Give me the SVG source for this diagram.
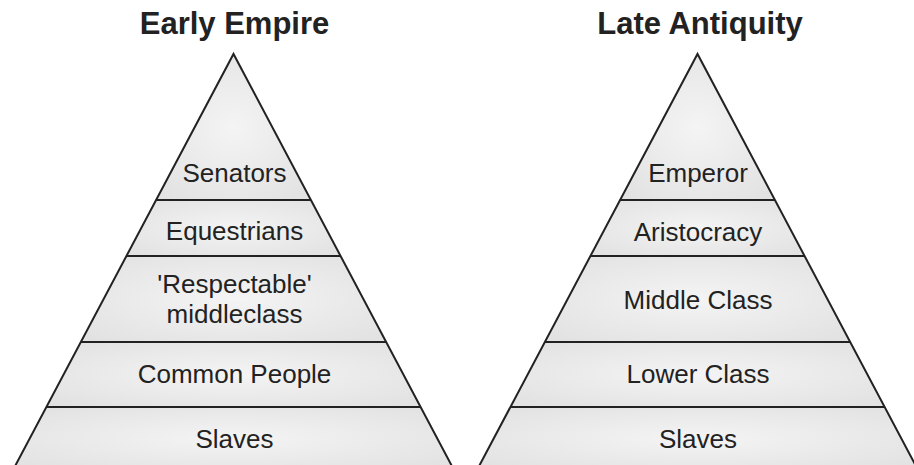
<svg xmlns="http://www.w3.org/2000/svg" width="914" height="465" viewBox="0 0 914 465">
<defs>
<radialGradient id="g" cx="0.5" cy="0.5" r="0.65">
<stop offset="0" stop-color="#f4f4f4"/>
<stop offset="1" stop-color="#e2e2e2"/>
</radialGradient>
<style>
.band{fill:url(#g);stroke:none}
.edge{fill:none;stroke:#222;stroke-width:2;stroke-linejoin:miter}
.lbl{font-family:"Liberation Sans",Arial,sans-serif;font-size:26px;fill:#222;text-anchor:middle}
.ttl{font-family:"Liberation Sans",Arial,sans-serif;font-size:31px;font-weight:bold;fill:#222;text-anchor:middle}
</style>
</defs>
<rect width="914" height="465" fill="#fff"/>
<g id="title-early"><text class="ttl" x="234.5" y="34">Early Empire</text></g>
<g id="title-late"><text class="ttl" x="700" y="34">Late Antiquity</text></g>

<g id="early-senators">
<polygon class="band" points="233.5,54 310.9,200 156.1,200"/>
<text class="lbl" x="234.5" y="182">Senators</text>
</g>
<g id="early-equestrians">
<polygon class="band" points="156.1,200 310.9,200 340.6,256 126.4,256"/>
<text class="lbl" x="234.5" y="240">Equestrians</text>
</g>
<g id="early-respectable">
<polygon class="band" points="126.4,256 340.6,256 386.1,342 80.9,342"/>
<text class="lbl" x="234.5" y="293">'Respectable'</text>
<text class="lbl" x="234.5" y="323">middleclass</text>
</g>
<g id="early-common">
<polygon class="band" points="80.9,342 386.1,342 420.6,407 46.4,407"/>
<text class="lbl" x="234.5" y="383">Common People</text>
</g>
<g id="early-slaves">
<polygon class="band" points="46.4,407 420.6,407 454,470 13,470"/>
<text class="lbl" x="234.5" y="448">Slaves</text>
</g>

<g id="late-emperor">
<polygon class="band" points="697.5,54 774.9,200 620.1,200"/>
<text class="lbl" x="698" y="182">Emperor</text>
</g>
<g id="late-aristocracy">
<polygon class="band" points="620.1,200 774.9,200 804.6,256 590.4,256"/>
<text class="lbl" x="698" y="241">Aristocracy</text>
</g>
<g id="late-middle">
<polygon class="band" points="590.4,256 804.6,256 850.1,342 544.9,342"/>
<text class="lbl" x="698" y="309">Middle Class</text>
</g>
<g id="late-lower">
<polygon class="band" points="544.9,342 850.1,342 884.6,407 510.4,407"/>
<text class="lbl" x="698" y="383">Lower Class</text>
</g>
<g id="late-slaves">
<polygon class="band" points="510.4,407 884.6,407 918,470 477,470"/>
<text class="lbl" x="698" y="448">Slaves</text>
</g>

<g id="connectors">
<polyline class="edge" points="13,470 233.5,54 454,470"/>
<line class="edge" x1="156.1" y1="200" x2="310.9" y2="200"/>
<line class="edge" x1="126.4" y1="256" x2="340.6" y2="256"/>
<line class="edge" x1="80.9" y1="342" x2="386.1" y2="342"/>
<line class="edge" x1="46.4" y1="407" x2="420.6" y2="407"/>
<polyline class="edge" points="477,470 697.5,54 918,470"/>
<line class="edge" x1="620.1" y1="200" x2="774.9" y2="200"/>
<line class="edge" x1="590.4" y1="256" x2="804.6" y2="256"/>
<line class="edge" x1="544.9" y1="342" x2="850.1" y2="342"/>
<line class="edge" x1="510.4" y1="407" x2="884.6" y2="407"/>
</g>
</svg>
